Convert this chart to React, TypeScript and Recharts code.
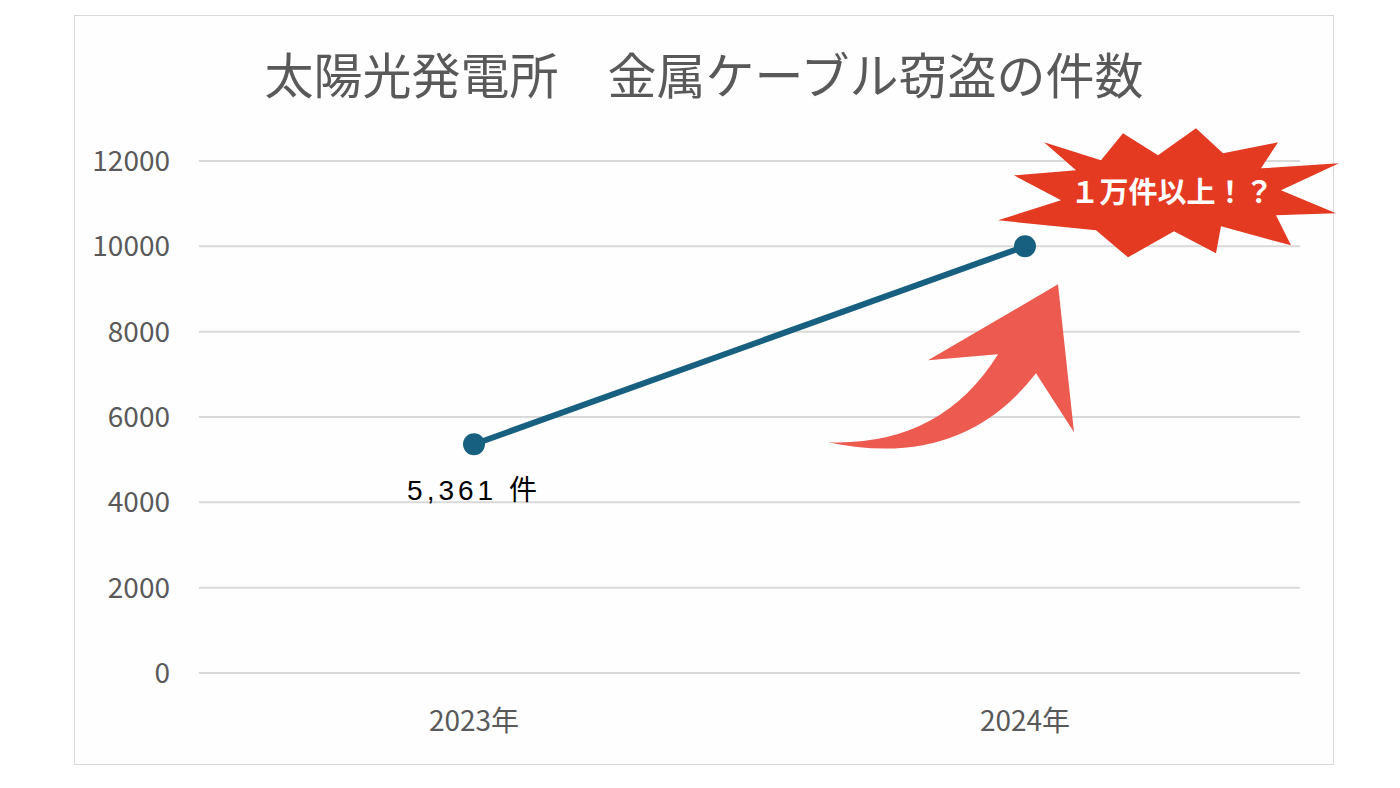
import { LineChart, Line, XAxis, YAxis, CartesianGrid, LabelList } from 'recharts';

const years = ['2023年', '2024年'];
const thefts = [5361, 10000];
const yTicks = [0, 2000, 4000, 6000, 8000, 10000, 12000];
const pointLabels = ['5,361 件', '１万件以上！？'];

const chartData = years.map((year, i) => ({ year, count: thefts[i], label: pointLabels[i] }));

const FONT = '"Noto Sans CJK JP", "Noto Sans", sans-serif';
const NUM_FONT = '"Liberation Sans", "Noto Sans CJK JP", sans-serif';
const GREY = '#595959';

// 爆発マーク（点からの相対座標）
const burst = [
  [19, -104], [76, -86], [98, -113], [133, -91], [171, -118], [198, -93],
  [253, -104], [236, -78], [314, -83], [256, -56], [311, -33], [251, -31],
  [266, -1], [196, -20], [191, 7], [149, -15], [103, 11], [71, -16],
  [-27, -26], [36, -46], [-11, -71], [51, -76],
];

const renderLabel = (props: any) => {
  const { x, y, index, value } = props;
  if (index === 0) {
    return (
      <text x={x} y={y + 56} textAnchor="middle" fontSize={28} letterSpacing={4} fill="#000" fontFamily={NUM_FONT}>
        {value}
      </text>
    );
  }
  const pts = burst.map(([dx, dy]) => `${x + dx},${y + dy}`).join(' ');
  const p = (dx: number, dy: number) => `${x + dx},${y + dy}`;
  return (
    <g>
      <path
        d={`M ${p(-197, 196)} Q ${p(-64, 224)} ${p(11, 127)} L ${p(49, 186)} L ${p(33, 38)} L ${p(-97, 114)} L ${p(-27, 108)} Q ${p(-84, 200)} ${p(-197, 196)} Z`}
        fill="#EC5A50"
      />
      <polygon points={pts} fill="#E43A22" />
      <text x={x + 147} y={y - 43} textAnchor="middle" fontSize={29} fontWeight="bold" fill="#fff" fontFamily={FONT}>
        {value}
      </text>
    </g>
  );
};

export default function App() {
  return (
    <div style={{ position: 'absolute', left: 0, top: 0, width: 1400, height: 788, background: '#fff' }}>
      <div
        style={{
          position: 'absolute', left: 74, top: 15, width: 1258, height: 748,
          border: '1px solid #D9D9D9', background: '#FEFEFE',
        }}
      />
      <div
        style={{
          position: 'absolute', left: 0, top: 40, width: 1408, textAlign: 'center',
          fontFamily: FONT, fontSize: 49, color: GREY, lineHeight: '66px', whiteSpace: 'pre',
        }}
      >
        太陽光発電所　金属ケーブル窃盗の件数
      </div>
      <div style={{ position: 'absolute', left: 0, top: 0 }}>
        <LineChart width={1400} height={788} data={chartData} margin={{ top: 161, right: 100, bottom: 0, left: 0 }}>
          <CartesianGrid vertical={false} stroke="#D9D9D9" strokeWidth={2} />
          <XAxis
            dataKey="year"
            axisLine={false}
            tickLine={false}
            tickSize={0}
            tickMargin={38}
            height={115}
            padding={{ left: 275, right: 275 }}
            tick={{ fontSize: 28, fill: GREY, fontFamily: FONT }}
          />
          <YAxis
            domain={[0, 12000]}
            ticks={yTicks}
            axisLine={false}
            tickLine={false}
            tickSize={0}
            tickMargin={29}
            width={199}
            tick={{ fontSize: 28, fill: GREY, fontFamily: FONT }}
          />
          <Line
            type="linear"
            dataKey="count"
            stroke="#17607F"
            strokeWidth={6}
            dot={{ r: 11, fill: '#17607F', stroke: '#17607F', strokeWidth: 0 }}
            activeDot={false}
            isAnimationActive={false}
          >
            <LabelList dataKey="label" content={renderLabel} />
          </Line>
        </LineChart>
      </div>
    </div>
  );
}
